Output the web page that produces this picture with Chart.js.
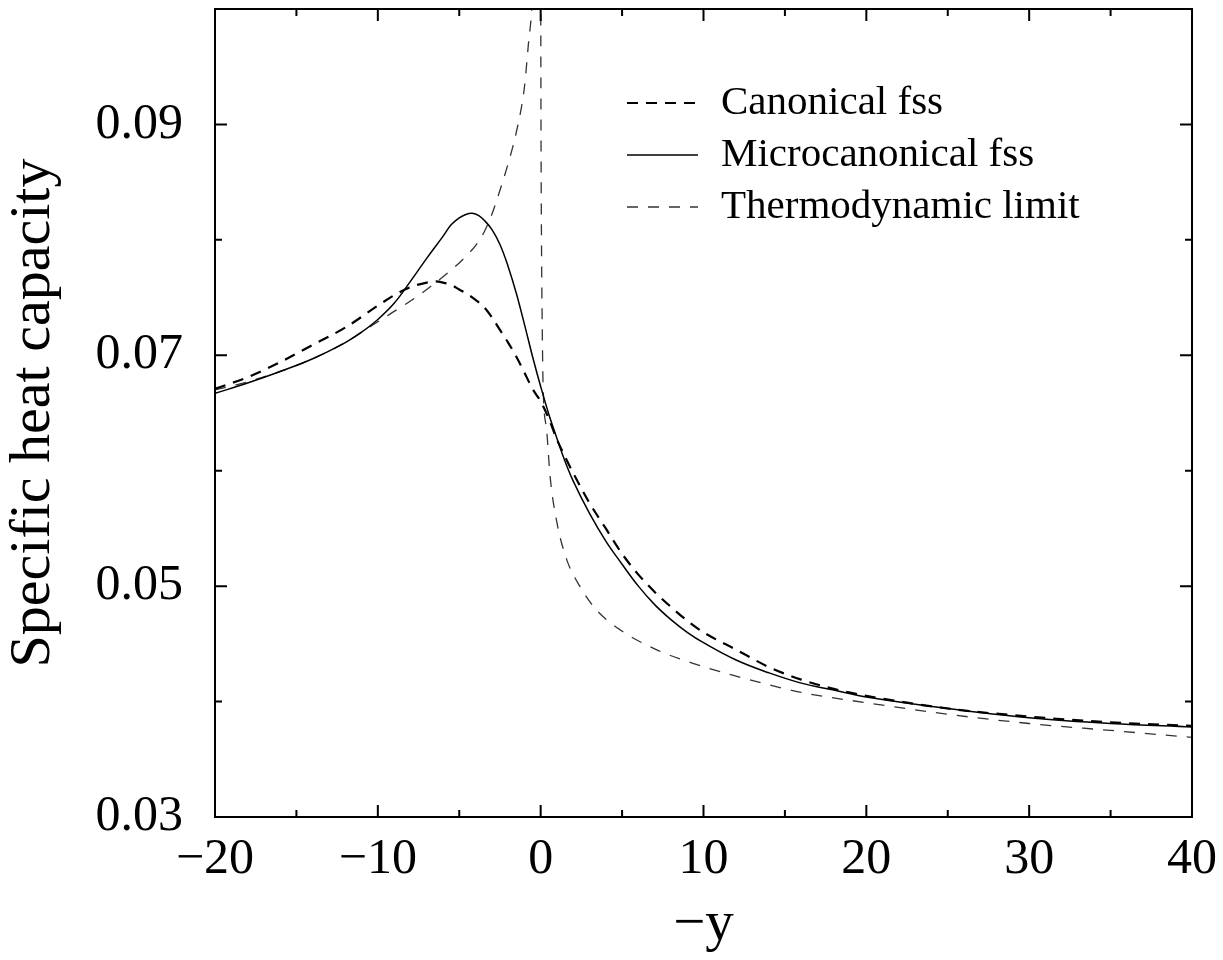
<!DOCTYPE html>
<html>
<head>
<meta charset="utf-8">
<script src="https://cdn.jsdelivr.net/npm/chart.js@4.4.0/dist/chart.umd.min.js"></script>
<style>
  html, body { margin: 0; padding: 0; background: #fff; }
  canvas { display: block; }
</style>
</head>
<body>
<canvas id="heat-chart" width="1223" height="960"></canvas>
<script>
// -y on the x axis, specific heat capacity on the y axis
const canonicalX = [-20, -18, -16, -14, -12, -10, -9, -8, -7, -6.5, -6, -5.5, -5, -4.5, -4, -3.5, -3, -2.5, -2, -1.5, -1, -0.5, 0, 0.5, 1, 1.5, 2, 3, 4, 5, 6, 7, 8, 9, 10, 12, 14, 16, 18, 20, 25, 30, 35, 40];
const canonicalY = [0.0671, 0.0681, 0.0694, 0.0709, 0.0724, 0.0743, 0.0752, 0.0759, 0.0763, 0.0764, 0.0763, 0.0761, 0.0757, 0.0753, 0.0748, 0.0742, 0.0733, 0.0722, 0.0711, 0.0699, 0.0685, 0.0671, 0.0660, 0.0645, 0.0627, 0.0612, 0.0598, 0.0572, 0.0550, 0.0528, 0.0510, 0.0495, 0.0482, 0.0470, 0.0460, 0.0445, 0.0430, 0.0419, 0.0411, 0.0405, 0.0394, 0.0387, 0.0382, 0.0379];

const microX = [-20, -18, -16, -14, -12, -11, -10, -9, -8, -7, -6, -5.5, -5, -4.6, -4.2, -3.8, -3.4, -3, -2.5, -2, -1.5, -1, -0.5, 0, 0.5, 1, 1.5, 2, 3, 4, 5, 6, 7, 8, 9, 10, 12, 14, 16, 18, 20, 25, 30, 35, 40];
const microY = [0.0667, 0.0676, 0.0686, 0.0697, 0.0711, 0.0720, 0.0731, 0.0745, 0.0764, 0.0784, 0.0803, 0.0813, 0.0819, 0.0822, 0.0823, 0.0821, 0.0816, 0.0809, 0.0796, 0.0777, 0.0754, 0.0727, 0.0699, 0.0673, 0.0649, 0.0628, 0.0608, 0.0591, 0.0563, 0.0539, 0.0519, 0.0500, 0.0484, 0.0471, 0.0460, 0.0451, 0.0436, 0.0425, 0.0416, 0.0410, 0.0404, 0.0394, 0.0386, 0.0381, 0.0378];

// the null splits the two branches either side of the divergence
const thermoX = [-20, -18, -16, -14, -12, -11, -10, -9, -8, -7, -6, -5, -4.5, -4, -3.5, -3, -2.5, -2, -1.5, -1, -0.75, -0.55, -0.4, -0.2, 0, 0.02, 0.05, 0.1, 0.15, 0.37, 0.58, 1, 1.6, 2.4, 3.45, 4.9, 7.1, 9.6, 12, 16, 20, 25, 30, 35, 40];
const thermoY = [0.0670, 0.0677, 0.0686, 0.0697, 0.0711, 0.0720, 0.0729, 0.0738, 0.0747, 0.0757, 0.0768, 0.0780, 0.0787, 0.0795, 0.0806, 0.0822, 0.0843, 0.0866, 0.0893, 0.0932, 0.0970, 0.1000, 0.1050, null, 0.1050, 0.0900, 0.0800, 0.0720, 0.0673, 0.0635, 0.0595, 0.0555, 0.0523, 0.0500, 0.0479, 0.0462, 0.0445, 0.0432, 0.0422, 0.0408, 0.0399, 0.0389, 0.0381, 0.0375, 0.0369];

const xLabelled = [-20, -10, 0, 10, 20, 30, 40];
const yLabelled = [0.03, 0.05, 0.07, 0.09];

function toPoints(xs, ys) {
    return xs.map((x, i) => ({ x: x, y: ys[i] }));
}

function isLabelled(v, list) {
    return list.some((l) => Math.abs(l - v) < 1e-6);
}

function minusSign(v) {
    return v < 0 ? '\u2212' + Math.abs(v) : String(v);
}

// gnuplot style box with inward ticks on every side
const framePlugin = {
    id: 'frame',
    afterDatasetsDraw(chart) {
        const { ctx, chartArea: a, scales: { x, y } } = chart;
        ctx.save();
        ctx.strokeStyle = '#000';
        ctx.lineWidth = 2;
        ctx.setLineDash([]);
        ctx.strokeRect(a.left, a.top, a.right - a.left, a.bottom - a.top);
        ctx.beginPath();
        x.ticks.forEach((t) => {
            const px = x.getPixelForValue(t.value);
            const len = isLabelled(t.value, xLabelled) ? 12 : 7;
            ctx.moveTo(px, a.bottom);
            ctx.lineTo(px, a.bottom - len);
            ctx.moveTo(px, a.top);
            ctx.lineTo(px, a.top + len);
        });
        y.ticks.forEach((t) => {
            const py = y.getPixelForValue(t.value);
            const len = isLabelled(t.value, yLabelled) ? 12 : 7;
            ctx.moveTo(a.left, py);
            ctx.lineTo(a.left + len, py);
            ctx.moveTo(a.right, py);
            ctx.lineTo(a.right - len, py);
        });
        ctx.stroke();
        ctx.restore();
    }
};

const keyPlugin = {
    id: 'key',
    afterDraw(chart) {
        const ctx = chart.ctx;
        ctx.save();
        ctx.font = '41px "Liberation Serif"';
        ctx.textBaseline = 'middle';
        ctx.fillStyle = '#000';
        chart.data.datasets.forEach((ds, i) => {
            const yy = 103 + i * 52;
            ctx.strokeStyle = ds.borderColor;
            ctx.lineWidth = ds.borderWidth;
            ctx.setLineDash(ds.borderDash || []);
            ctx.beginPath();
            ctx.moveTo(627, yy);
            ctx.lineTo(698, yy);
            ctx.stroke();
            ctx.setLineDash([]);
            ctx.fillText(ds.label, 721, yy);
        });
        ctx.restore();
    }
};

Chart.defaults.font.family = '"Liberation Serif", "Times New Roman", serif';
Chart.defaults.color = '#000';

const data = {
    datasets: [{
        label: 'Canonical fss',
        data: toPoints(canonicalX, canonicalY),
        borderColor: '#000',
        borderWidth: 2.2,
        borderDash: [11, 8]
    }, {
        label: 'Microcanonical fss',
        data: toPoints(microX, microY),
        borderColor: '#000',
        borderWidth: 1.5,
        cubicInterpolationMode: 'default',
        tension: 0.4
    }, {
        label: 'Thermodynamic limit',
        data: toPoints(thermoX, thermoY),
        borderColor: '#333',
        borderWidth: 1.3,
        borderDash: [11, 10]
    }]
};

const options = {
    responsive: false,
    animation: false,
    devicePixelRatio: 1,
    layout: { padding: { top: 9, right: 31, left: 0, bottom: 0 } },
    elements: {
        point: { radius: 0 },
        line: { cubicInterpolationMode: 'monotone', fill: false }
    },
    plugins: {
        legend: { display: false },
        tooltip: { enabled: false }
    },
    scales: {
        x: {
            type: 'linear',
            min: -20,
            max: 40,
            grid: { display: false, drawTicks: false },
            border: { display: false },
            ticks: {
                stepSize: 5,
                autoSkip: false,
                maxRotation: 0,
                padding: 13,
                font: { size: 50 },
                callback: (v) => isLabelled(v, xLabelled) ? minusSign(v) : ''
            },
            title: {
                display: true,
                text: '\u2212y',
                font: { size: 57, lineHeight: 1.2 },
                padding: { top: 0, bottom: 1 }
            },
            afterFit(s) {
                s.height = 143;
                s.paddingLeft = 0;
                s.paddingRight = 0;
            }
        },
        y: {
            type: 'linear',
            min: 0.03,
            max: 0.1,
            grid: { display: false, drawTicks: false },
            border: { display: false },
            ticks: {
                stepSize: 0.01,
                autoSkip: false,
                padding: 32,
                font: { size: 50 },
                callback: (v) => isLabelled(v, yLabelled) ? v.toFixed(2) : ''
            },
            title: {
                display: true,
                text: 'Specific heat capacity',
                font: { size: 58, lineHeight: 1.15 },
                padding: { top: 0, bottom: 0 }
            },
            afterFit(s) {
                s.width = 215;
                s.paddingTop = 0;
                s.paddingBottom = 0;
            }
        }
    }
};

new Chart(document.getElementById('heat-chart'), {
    type: 'line',
    data: data,
    options: options,
    plugins: [framePlugin, keyPlugin]
});
</script>
</body>
</html>
